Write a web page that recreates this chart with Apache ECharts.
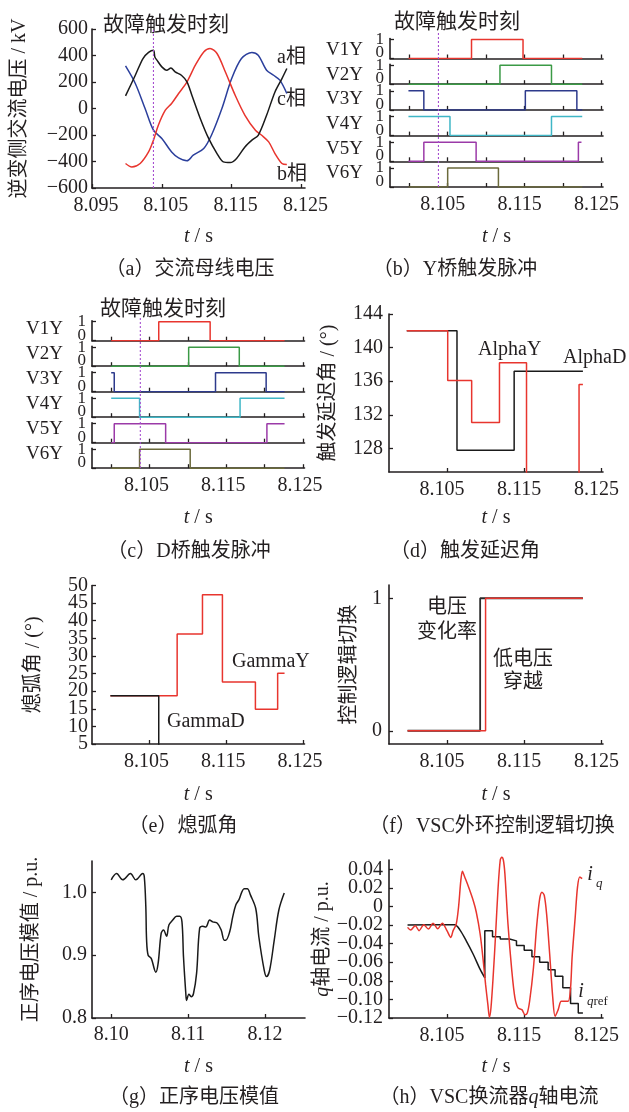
<!DOCTYPE html>
<html>
<head>
<meta charset="utf-8">
<script src="https://cdn.jsdelivr.net/npm/echarts@6.0.0/dist/echarts.min.js"></script>
<style>
  html, body { margin: 0; padding: 0; background: #fff; }
  #c { width: 629px; height: 1112px; }
</style>
</head>
<body>
<div id="c"></div>
<script>
// ---------------- data ----------------
const FAULT_T = 8.1038;                      // fault trigger instant, s

// (a) inverter-side AC bus voltage, kV  [t, v]
const A_PHASE_A = [[8.0998,95],[8.1012,251],[8.1023,377],[8.1031,423],[8.1038,440],[8.1040,389],[8.1043,365],[8.1050,314],[8.1057,289],[8.1063,306],[8.1069,276],[8.1078,251],[8.1086,201],[8.1093,100],[8.1105,-75],[8.1117,-226],[8.1129,-340],[8.1138,-403],[8.1148,-408],[8.1157,-377],[8.1169,-290],[8.1179,-239],[8.1188,-202],[8.1200,-51],[8.1212,125],[8.1222,226],[8.1229,302]];
const A_PHASE_B = [[8.0998,-415],[8.1007,-441],[8.1019,-415],[8.1031,-328],[8.1038,-239],[8.1045,-126],[8.1055,-13],[8.1064,38],[8.1074,113],[8.1086,201],[8.1098,327],[8.1110,427],[8.1119,453],[8.1129,415],[8.1141,276],[8.1155,100],[8.1169,-51],[8.1184,-164],[8.1193,-202],[8.1203,-252],[8.1212,-340],[8.1222,-415],[8.1229,-423]];
const A_PHASE_C = [[8.0998,321],[8.1012,189],[8.1026,0],[8.1038,-164],[8.1050,-226],[8.1064,-328],[8.1074,-373],[8.1086,-395],[8.1095,-352],[8.1110,-302],[8.1121,-202],[8.1136,0],[8.1150,226],[8.1164,377],[8.1179,423],[8.1188,402],[8.1200,289],[8.1210,251],[8.1219,214],[8.1229,113]];
const A_Y_TICKS = [-600,-400,-200,0,200,400,600];
const A_X_TICKS = [8.095,8.105,8.115,8.125];

// firing pulses: [switch time, new level]  (held until the next switch)
const PULSE_NAMES = ['V1Y','V2Y','V3Y','V4Y','V5Y','V6Y'];
const PULSE_COLORS = ['#e8352e','#3b9a46','#2d3a8c','#3fb6c6','#9b3aa8','#6b6a3b'];
// (b) Y bridge
const YB_V1 = [[8.0999,0],[8.1081,1],[8.1148,0],[8.1225,0]];
const YB_V2 = [[8.0999,0],[8.1118,1],[8.1185,0],[8.1225,0]];
const YB_V3 = [[8.0999,1],[8.1019,0],[8.1151,1],[8.1218,0],[8.1225,0]];
const YB_V4 = [[8.0999,1],[8.1053,0],[8.1185,1],[8.1225,1]];
const YB_V5 = [[8.0999,0],[8.1019,1],[8.1087,0],[8.1220,1],[8.1224,1]];
const YB_V6 = [[8.0999,0],[8.1050,1],[8.1116,0],[8.1225,0]];
// (c) D bridge
const DB_V1 = [[8.1000,0],[8.1062,1],[8.1129,0],[8.1226,0]];
const DB_V2 = [[8.1000,0],[8.1101,1],[8.1167,0],[8.1226,0]];
const DB_V3 = [[8.1000,1],[8.1004,0],[8.1136,1],[8.1202,0],[8.1226,0]];
const DB_V4 = [[8.1000,1],[8.1037,0],[8.1168,1],[8.1226,1]];
const DB_V5 = [[8.1000,0],[8.1004,1],[8.1071,0],[8.1203,1],[8.1226,1]];
const DB_V6 = [[8.1000,0],[8.1037,1],[8.1103,0],[8.1226,0]];
const PULSE_X_TICKS = [8.100,8.105,8.110,8.115,8.120,8.125];
const LOW_X_LABELS = [8.105,8.115,8.125];

// (d) firing delay angle, deg
const ALPHA_Y = [[8.0998,142],[8.1051,136.1],[8.1082,131.1],[8.1118,138.2],[8.1153,110],[8.1221,135.6],[8.1226,135.6]];
const ALPHA_D = [[8.0998,142],[8.1063,127.8],[8.1137,137.2],[8.1226,137.2]];
const ALPHA_TICKS = [128,132,136,140,144];

// (e) extinction angle, deg
const GAMMA_Y = [[8.0999,18.7],[8.1086,36.2],[8.1119,47.4],[8.1145,22.6],[8.1188,14.9],[8.1217,25.1],[8.1226,25.1]];
const GAMMA_D = [[8.0999,18.7],[8.1062,0]];
const GAMMA_TICKS = [5,10,15,20,25,30,35,40,45,50];

// (f) outer-loop control logic switching
const LOGIC_DVDT = [[8.0999,0],[8.1093,1],[8.1226,1]];
const LOGIC_LVRT = [[8.0999,0],[8.1100,1],[8.1226,1]];

// (g) positive-sequence voltage magnitude, p.u.
const VPOS = [[8.1000,1.020],[8.1007,1.030],[8.1015,1.020],[8.1025,1.030],[8.1032,1.020],[8.1041,1.030],[8.1043,1.025],[8.1045,0.977],[8.1046,0.924],[8.1048,0.900],[8.1052,0.895],[8.1058,0.873],[8.1061,0.887],[8.1065,0.935],[8.1068,0.940],[8.1072,0.930],[8.1075,0.948],[8.1080,0.956],[8.1085,0.962],[8.1089,0.962],[8.1092,0.953],[8.1094,0.897],[8.1097,0.839],[8.1098,0.828],[8.1101,0.838],[8.1104,0.834],[8.1107,0.839],[8.1111,0.871],[8.1115,0.943],[8.1119,0.946],[8.1123,0.945],[8.1128,0.956],[8.1132,0.953],[8.1138,0.951],[8.1143,0.940],[8.1147,0.924],[8.1149,0.924],[8.1154,0.937],[8.1158,0.961],[8.1162,0.980],[8.1166,0.988],[8.1173,1.006],[8.1177,1.006],[8.1181,0.996],[8.1188,0.974],[8.1192,0.929],[8.1199,0.876],[8.1202,0.866],[8.1206,0.876],[8.1212,0.924],[8.1218,0.972],[8.1225,0.999]];
const VPOS_TICKS = [0.8,0.9,1.0];
const VPOS_X = [8.10,8.11,8.12];

// (h) VSC q-axis current, p.u.
const IQ = [[8.0999,-0.0225],[8.1003,-0.0254],[8.1009,-0.0207],[8.1014,-0.026],[8.1020,-0.0196],[8.1026,-0.0243],[8.1032,-0.018],[8.1038,-0.024],[8.1044,-0.018],[8.1050,-0.026],[8.1055,-0.0333],[8.1058,-0.026],[8.1062,-0.019],[8.1065,-0.0008],[8.1068,0.028],[8.1070,0.038],[8.1073,0.0317],[8.1078,0.0209],[8.1084,0.0064],[8.1088,-0.0062],[8.1093,-0.0297],[8.1097,-0.0586],[8.1100,-0.0839],[8.1103,-0.1056],[8.1105,-0.1193],[8.1107,-0.109],[8.1110,-0.073],[8.1113,-0.0297],[8.1116,0.0172],[8.1119,0.050],[8.1121,0.053],[8.1123,0.050],[8.1125,0.0353],[8.1129,-0.0189],[8.1134,-0.0695],[8.1138,-0.0984],[8.1142,-0.1092],[8.1147,-0.111],[8.1151,-0.1164],[8.1154,-0.1146],[8.1157,-0.102],[8.1162,-0.0659],[8.1166,-0.0225],[8.1170,0.0082],[8.1173,0.0154],[8.1176,0.0118],[8.1179,-0.008],[8.1183,-0.0514],[8.1187,-0.0984],[8.1190,-0.1182],[8.1194,-0.111],[8.1198,-0.102],[8.1203,-0.102],[8.1207,-0.102],[8.1210,-0.0875],[8.1212,-0.055],[8.1216,-0.0117],[8.1219,0.0209],[8.1222,0.0317],[8.1225,0.0299]];
const IQREF_RAMP = [[8.0999,-0.020],[8.1060,-0.0196],[8.1067,-0.0254],[8.1075,-0.037],[8.1084,-0.0514],[8.1093,-0.0677],[8.1099,-0.0767]];
// staircase: [end time of step, level]
const IQREF_STEPS = [[8.1099,-0.0767],[8.1109,-0.026],[8.1119,-0.0326],[8.1131,-0.035],[8.1140,-0.037],[8.1150,-0.042],[8.1160,-0.047],[8.1170,-0.054],[8.1181,-0.060],[8.1190,-0.068],[8.1200,-0.075],[8.1210,-0.0875],[8.1220,-0.1045],[8.1226,-0.1146]];
const IQ_TICKS = [-0.12,-0.10,-0.08,-0.06,-0.04,-0.02,0,0.02,0.04];

// ---------------- styling ----------------
const INK = '#231f20';
const PURPLE = '#a64fd0';
const RED = '#e8352e';
const BLACK = '#1a1a1a';
const BLUE = '#2b3f9c';
const SERIF = "'Liberation Serif','Noto Sans CJK SC',serif";
const X0 = 8.0975, X1 = 8.1252;

const NAME_RICH = {
  t: { fontStyle: 'italic', fontFamily: SERIF, fontSize: 20, color: INK },
  n: { fontFamily: SERIF, fontSize: 20, color: INK }
};
const minus = v => (v < 0 ? '\u2212' + String(Math.abs(v)) : String(v));
const every = (arr, parity) => arr.filter((_, i) => i % 2 === parity);

const grid = [], xAxis = [], yAxis = [], series = [], elements = [];

function makeAxis(gi, o, dir, labels) {
  const lbl = labels ? {
    show: true, customValues: labels, formatter: o.fmt, margin: o.margin == null ? 7 : o.margin,
    showMinLabel: true, showMaxLabel: true, hideOverlap: false,
    color: INK, fontFamily: SERIF, fontSize: o.fontSize || 20, padding: o.pad || 0
  } : { show: false };
  if (labels && o.vAlign) { lbl.verticalAlign = o.vAlign; lbl.lineHeight = o.lineHeight; }
  return {
    type: 'value', gridIndex: gi, min: o.min, max: o.max, show: o.show !== false,
    position: dir === 'y' ? 'left' : 'bottom', offset: 0,
    axisLine: { show: o.noLine ? false : true, onZero: false, lineStyle: { color: INK, width: 1.6 } },
    axisTick: { show: !!o.ticks && !o.noLine, inside: true, length: 4, customValues: o.ticks,
                lineStyle: { color: INK, width: 1.3 } },
    axisLabel: lbl,
    splitLine: { show: false },
    name: o.name || '', nameLocation: 'middle', nameGap: o.nameGap || 0,
    nameRotate: dir === 'y' ? 90 : 0,
    nameTextStyle: { color: INK, fontFamily: SERIF, fontSize: 20, rich: NAME_RICH }
  };
}
// One grid with its x/y axes. Densely packed y labels are split over two
// overlaid label-only axes so that every value keeps its label.
function addPanel(box, xo, yo) {
  const gi = grid.length;
  grid.push({ left: box[0], top: box[1], width: box[2], height: box[3] });
  const xi = xAxis.length, yi = yAxis.length;
  xAxis.push(makeAxis(gi, xo, 'x', xo.labels));
  if (yo.altLabels) {
    yAxis.push(makeAxis(gi, yo, 'y', yo.labels));
    yAxis.push(makeAxis(gi, Object.assign({}, yo, { name: '', noLine: true }, yo.alt || {}), 'y', yo.altLabels));
  } else {
    yAxis.push(makeAxis(gi, yo, 'y', yo.labels));
  }
  return { xi, yi };
}
function line(p, data, color, extra) {
  series.push(Object.assign({
    type: 'line', xAxisIndex: p.xi, yAxisIndex: p.yi, data, symbol: 'none', showSymbol: false,
    silent: true, animation: false, lineStyle: { color, width: 1.5 }, itemStyle: { color }
  }, extra || {}));
}
function faultLine(p, lo, hi) {
  line(p, [[FAULT_T, lo], [FAULT_T, hi]], PURPLE, { lineStyle: { color: PURPLE, width: 1.1, type: [2, 2] } });
}
function text(x, y, str, o) {
  o = o || {};
  const align = o.align || 'center';
  elements.push({
    type: 'text', x, y, silent: true,
    style: Object.assign({
      text: str, fill: INK, fontFamily: SERIF, fontSize: o.size || 20,
      fontStyle: o.italic ? 'italic' : 'normal',
      align, textAlign: align, verticalAlign: 'middle', textVerticalAlign: 'middle'
    }, o.rich ? { rich: o.rich } : {})
  });
}
const TS = '{t|t}{n| / s}';
const fmt3 = v => v.toFixed(3);

// ---------- (a) AC bus voltage ----------
const pA = addPanel([92, 29, 213, 159],
  { min: 8.095, max: 8.1255, ticks: A_X_TICKS, labels: A_X_TICKS, fmt: fmt3, margin: 8, pad: [0, 0, 0, 8],
    name: TS, nameGap: 39 },
  { min: -600, max: 600, ticks: A_Y_TICKS, labels: A_Y_TICKS, fmt: minus, margin: 4,
    name: '逆变侧交流电压 / kV', nameGap: 62 });
line(pA, A_PHASE_C, BLUE, { smooth: 0.3 });
line(pA, A_PHASE_B, RED, { smooth: 0.3 });
line(pA, A_PHASE_A, BLACK, { smooth: 0.3 });
faultLine(pA, -600, 600);
text(166, 25, '故障触发时刻', { size: 21 });
text(277, 58, 'a相', { align: 'left' });
text(277, 100, 'c相', { align: 'left' });
text(277, 175, 'b相', { align: 'left' });

// ---------- pulse stacks (b) and (c) ----------
function pulseStack(left, width, firstBottom, step, labelX, labelY0, labelStep, sets, labelPad) {
  sets.forEach((d, i) => {
    const bottom = firstBottom + step * i;
    const last = i === sets.length - 1;
    const p = addPanel([left, bottom - 20, width, 20],
      { min: X0, max: X1, ticks: PULSE_X_TICKS,
        labels: last ? LOW_X_LABELS : null, fmt: fmt3, margin: 8, pad: labelPad,
        name: last ? TS : '', nameGap: 40 },
      { min: 0, max: 1.05, ticks: [0, 1], labels: [1], altLabels: [0], margin: 6, fontSize: 17,
        alt: { vAlign: 'bottom', lineHeight: 11 } });
    line(p, d, PULSE_COLORS[i], { step: 'end' });
    text(labelX, labelY0 + labelStep * i, PULSE_NAMES[i], { align: 'right', size: 19 });
  });
}
pulseStack(390, 213, 58.5, 25.7, 363, 50, 24.7, [YB_V1, YB_V2, YB_V3, YB_V4, YB_V5, YB_V6], [0, 10, 0, 0]);
const pBo = addPanel([390, 32, 213, 155], { min: X0, max: X1, show: false }, { min: 0, max: 1, show: false });
faultLine(pBo, 0, 1);
text(457, 22, '故障触发时刻', { size: 21 });

pulseStack(92, 212.5, 340.7, 25.5, 63, 329.3, 24.9, [DB_V1, DB_V2, DB_V3, DB_V4, DB_V5, DB_V6], [0, 6, 0, 0]);
const pCo = addPanel([92, 318, 212.5, 150], { min: X0, max: X1, show: false }, { min: 0, max: 1, show: false });
faultLine(pCo, 0, 1);
text(163, 309, '故障触发时刻', { size: 21 });

// ---------- (d) firing delay angle ----------
const pD = addPanel([389, 314, 214, 158],
  { min: X0, max: X1, ticks: LOW_X_LABELS, labels: LOW_X_LABELS, fmt: fmt3, margin: 8, pad: [0, 10, 0, 0],
    name: TS, nameGap: 36 },
  { min: 125.2, max: 144, ticks: ALPHA_TICKS, labels: ALPHA_TICKS, margin: 6,
    name: '触发延迟角 / (°)', nameGap: 50 });
line(pD, ALPHA_D, BLACK, { step: 'end' });
line(pD, ALPHA_Y, RED, { step: 'end' });
text(478, 350, 'AlphaY', { align: 'left' });
text(563, 358, 'AlphaD', { align: 'left' });

// ---------- (e) extinction angle ----------
const pE = addPanel([92, 585.5, 212.5, 158.5],
  { min: X0, max: X1, ticks: LOW_X_LABELS, labels: LOW_X_LABELS, fmt: fmt3, margin: 8, pad: [0, 6, 0, 0],
    name: TS, nameGap: 41 },
  { min: 5, max: 50, ticks: GAMMA_TICKS, labels: every(GAMMA_TICKS, 0), altLabels: every(GAMMA_TICKS, 1), margin: 4,
    name: '熄弧角 / (°)', nameGap: 48 });
line(pE, GAMMA_Y, RED, { step: 'end' });
line(pE, GAMMA_D, BLACK, { step: 'end' });
text(232, 662, 'GammaY', { align: 'left' });
text(167, 722, 'GammaD', { align: 'left' });

// ---------- (f) control logic switching ----------
const pF = addPanel([389, 585, 214, 159],
  { min: X0, max: X1, ticks: LOW_X_LABELS, labels: LOW_X_LABELS, fmt: fmt3, margin: 8, pad: [0, 10, 0, 0],
    name: TS, nameGap: 41 },
  { min: -0.1, max: 1.1, ticks: [0, 1], labels: [0, 1], margin: 7,
    name: '控制逻辑切换', nameGap: 29 });
line(pF, LOGIC_DVDT, '#2a2a2a', { step: 'end', lineStyle: { color: '#2a2a2a', width: 1.8 } });
line(pF, LOGIC_LVRT, RED, { step: 'end' });
text(447, 608, '电压');
text(447, 633, '变化率');
text(523, 660, '低电压');
text(523, 683, '穿越');

// ---------- (g) positive-sequence voltage ----------
const pG = addPanel([92, 861, 213, 157],
  { min: X0, max: X1, ticks: VPOS_X, labels: VPOS_X, fmt: v => v.toFixed(2), margin: 7,
    name: TS, nameGap: 39 },
  { min: 0.8, max: 1.05, ticks: VPOS_TICKS, labels: VPOS_TICKS, fmt: v => v.toFixed(1), margin: 5,
    name: '正序电压模值 / p.u.', nameGap: 50 });
line(pG, VPOS, BLACK, { smooth: 0.35 });

// ---------- (h) q-axis current ----------
const iqFmt = v => (Math.abs(v) < 1e-9 ? '0' : (v < 0 ? '\u2212' + Math.abs(v).toFixed(2) : v.toFixed(2)));
const pH = addPanel([389, 860, 214, 158],
  { min: X0, max: X1, ticks: LOW_X_LABELS, labels: LOW_X_LABELS, fmt: fmt3, margin: 8, pad: [0, 10, 0, 0],
    name: TS, nameGap: 39 },
  { min: -0.12, max: 0.05, ticks: IQ_TICKS, labels: every(IQ_TICKS, 0), altLabels: every(IQ_TICKS, 1),
    fmt: iqFmt, margin: 6, name: '{t|q}{n|轴电流 / p.u.}', nameGap: 56 });
line(pH, IQREF_RAMP, BLACK, { smooth: 0.3 });
line(pH, IQREF_STEPS, BLACK, { step: 'start' });
line(pH, IQ, RED, { smooth: 0.3, clip: false });
text(590, 875, 'i', { italic: true });
text(596, 884, 'q', { italic: true, size: 13, align: 'left' });
text(581, 992, 'i', { italic: true });
text(587, 1002, '{q|q}{r|ref}', { size: 13, align: 'left',
  rich: { q: { fontStyle: 'italic', fontFamily: SERIF, fontSize: 13, fill: INK, color: INK },
          r: { fontFamily: SERIF, fontSize: 13, fill: INK, color: INK } } });

// ---------- captions ----------
text(190, 270, '（a）交流母线电压');
text(455, 270, '（b）Y桥触发脉冲');
text(189, 552, '（c）D桥触发脉冲');
text(465, 552, '（d）触发延迟角');
text(183, 827, '（e）熄弧角');
text(492, 827, '（f）VSC外环控制逻辑切换');
text(194, 1098, '（g）正序电压模值');
text(489, 1098, '{n|（h）VSC换流器}{q|q}{n|轴电流}', {
  rich: { n: { fontFamily: SERIF, fontSize: 20, fill: INK, color: INK },
          q: { fontFamily: SERIF, fontSize: 20, fontStyle: 'italic', fill: INK, color: INK } } });

const chart = echarts.init(document.getElementById('c'), null, { renderer: 'canvas' });
chart.setOption({
  backgroundColor: '#ffffff',
  animation: false,
  grid, xAxis, yAxis, series,
  graphic: { elements }
});
</script>
</body>
</html>
